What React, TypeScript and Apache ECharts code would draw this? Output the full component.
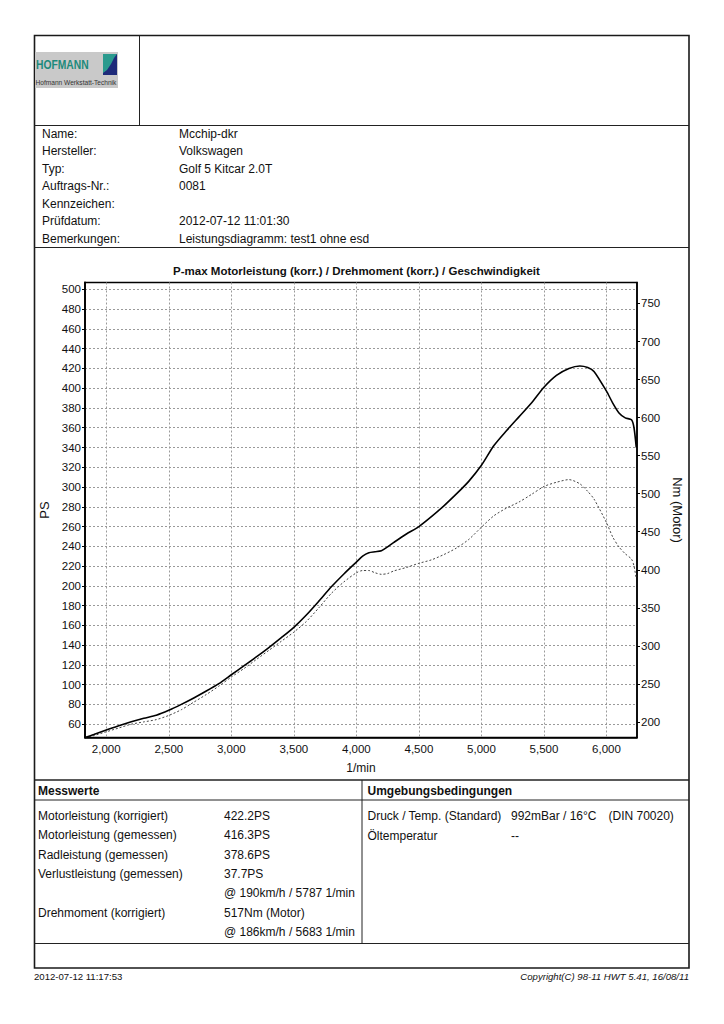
import React, { useEffect, useRef } from "react";
import * as echarts from "echarts";

// ---- data ----
const rpm = [
  1830, 1900, 2000, 2100, 2200, 2300, 2400, 2500, 2600, 2700, 2800, 2900, 3000,
  3100, 3200, 3300, 3400, 3500, 3600, 3700, 3800, 3900, 4000, 4050, 4100, 4150,
  4200, 4250, 4300, 4400, 4500, 4600, 4700, 4800, 4900, 5000, 5100, 5200, 5300,
  5400, 5500, 5600, 5700, 5787, 5850, 5900, 6000, 6050, 6100, 6150, 6200, 6220,
  6238,
];
const powerPS = [
  46.5, 49.5, 54, 58.5, 62.5, 66, 69, 74, 80, 86.5, 93.5, 101, 110,
  119, 128, 137.5, 147.5, 158, 170.5, 184.5, 199, 212, 224, 230, 233.5, 234.5,
  235.5, 239.5, 244, 252.5, 260, 270, 281, 293, 306, 322, 342, 357, 371,
  385, 401, 413, 420, 422.5, 421, 417, 397, 385, 375, 370, 368, 360,
  340,
];
const torqueNm = [
  179.5, 182, 187, 192, 197, 200, 203, 208.5, 216, 226, 236, 247, 259,
  270, 282, 294, 306, 318, 332, 350, 369, 384, 396, 399, 399, 396,
  394, 395, 398.5, 403, 408.5, 413, 420, 428.5, 440, 456, 471, 481, 489,
  499, 509.5, 515, 518.5, 513, 503, 493, 462, 443, 430, 421, 414, 405,
  388,
];
const rpmTicks = [2000, 2500, 3000, 3500, 4000, 4500, 5000, 5500, 6000];
const psTicks = [
  60, 80, 100, 120, 140, 160, 180, 200, 220, 240, 260, 280, 300, 320, 340, 360,
  380, 400, 420, 440, 460, 480, 500,
];
const nmTicks = [200, 250, 300, 350, 400, 450, 500, 550, 600, 650, 700, 750];

const chartTitle =
  "P-max Motorleistung (korr.) / Drehmoment (korr.) / Geschwindigkeit";

const infoLabels = [
  "Name:",
  "Hersteller:",
  "Typ:",
  "Auftrags-Nr.:",
  "Kennzeichen:",
  "Prüfdatum:",
  "Bemerkungen:",
];
const infoValues = [
  "Mcchip-dkr",
  "Volkswagen",
  "Golf 5 Kitcar 2.0T",
  "0081",
  "",
  "2012-07-12 11:01:30",
  "Leistungsdiagramm: test1 ohne esd",
];
const measLabels = [
  "Motorleistung (korrigiert)",
  "Motorleistung (gemessen)",
  "Radleistung (gemessen)",
  "Verlustleistung (gemessen)",
  "",
  "Drehmoment (korrigiert)",
  "",
];
const measValues = [
  "422.2PS",
  "416.3PS",
  "378.6PS",
  "37.7PS",
  "@ 190km/h / 5787 1/min",
  "517Nm (Motor)",
  "@ 186km/h / 5683 1/min",
];
const envLabels = ["Druck / Temp. (Standard)", "Öltemperatur"];
const envValues = ["992mBar / 16°C", "--"];
const envExtra = ["(DIN 70020)", ""];

const FONT = '"Liberation Sans", Arial, sans-serif';

function txt(
  text: string,
  x: number,
  y: number,
  size = 12,
  opts: { bold?: boolean; italic?: boolean; align?: string; fill?: string } = {}
) {
  return {
    type: "text",
    silent: true,
    style: {
      text,
      x,
      y,
      fill: opts.fill || "#111",
      font: `${opts.italic ? "italic " : ""}${opts.bold ? "bold " : ""}${size}px ${FONT}`,
      align: opts.align || "left",
      verticalAlign: "middle",
    },
  };
}
function hline(x1: number, x2: number, y: number, w = 1, c = "#222") {
  return {
    type: "line",
    silent: true,
    shape: { x1, y1: y, x2, y2: y },
    style: { stroke: c, lineWidth: w },
  };
}
function vline(x: number, y1: number, y2: number, w = 1, c = "#222") {
  return {
    type: "line",
    silent: true,
    shape: { x1: x, y1, x2: x, y2 },
    style: { stroke: c, lineWidth: w },
  };
}

function fmtK(v: number) {
  const th = Math.floor(v / 1000);
  const rest = String(Math.round(v % 1000)).padStart(3, "0");
  return th > 0 ? `${th},${rest}` : String(v);
}

export default function App() {
  const ref = useRef<HTMLDivElement>(null);
  useEffect(() => {
    if (!ref.current) return;
    const chart = echarts.init(ref.current, undefined, { renderer: "svg" });

    const graphic: any[] = [];
    // outer frame & table lines
    graphic.push({
      type: "rect",
      silent: true,
      shape: { x: 34.5, y: 35.5, width: 654.5, height: 932.5 },
      style: { fill: "none", stroke: "#1a1a1a", lineWidth: 1.6 },
    });
    graphic.push(vline(139.5, 35.5, 125.5, 1));
    graphic.push(hline(34.5, 689, 125.5, 1.2));
    graphic.push(hline(34.5, 689, 247.5, 1.2));
    graphic.push(hline(34.5, 689, 780, 1.4));
    graphic.push(hline(34.5, 689, 800, 1));
    graphic.push(hline(34.5, 689, 943.5, 1.2));
    graphic.push(vline(362, 780, 943.5, 1));

    // logo
    graphic.push({
      type: "rect",
      silent: true,
      shape: { x: 35, y: 52, width: 83, height: 36 },
      style: { fill: "#c9c9c9" },
    });
    graphic.push({
      type: "rect",
      silent: true,
      shape: { x: 103, y: 54, width: 14, height: 21 },
      style: { fill: "#1e2b7a" },
    });
    graphic.push({
      type: "polygon",
      silent: true,
      shape: {
        points: [
          [103, 54],
          [117, 54],
          [114, 58],
          [111, 64],
          [107, 70],
          [103, 73],
        ],
      },
      style: { fill: "#2a9a8e" },
    });
    graphic.push({
      type: "text",
      silent: true,
      x: 36,
      y: 65,
      scaleX: 0.86,
      style: {
        text: "HOFMANN",
        x: 0,
        y: 0,
        fill: "#1d8a7c",
        font: `bold 12px ${FONT}`,
        align: "left",
        verticalAlign: "middle",
      },
    });
    graphic.push(
      txt("Hofmann Werkstatt-Technik", 35.5, 82, 6.6, { fill: "#333" })
    );

    // info rows
    infoLabels.forEach((l, i) => {
      const y = 133.5 + i * 17.5;
      graphic.push(txt(l, 42, y, 12));
      if (infoValues[i]) graphic.push(txt(infoValues[i], 179, y, 12));
    });

    // chart title
    graphic.push(txt(chartTitle, 356.5, 271, 11.5, { bold: true, align: "center" }));

    // measurement table
    graphic.push(txt("Messwerte", 38, 791, 12, { bold: true }));
    graphic.push(txt("Umgebungsbedingungen", 367.5, 791, 12, { bold: true }));
    measLabels.forEach((l, i) => {
      const y = 816 + i * 19.3;
      if (l) graphic.push(txt(l, 38, y, 12));
      graphic.push(txt(measValues[i], 224, y, 12));
    });
    envLabels.forEach((l, i) => {
      const y = 815.5 + i * 20;
      graphic.push(txt(l, 367.5, y, 12));
      graphic.push(txt(envValues[i], 511, y, 12));
      if (envExtra[i]) graphic.push(txt(envExtra[i], 608.5, y, 12));
    });

    // footer
    graphic.push(txt("2012-07-12 11:17:53", 34, 976, 9.6));
    graphic.push(
      txt("Copyright(C) 98-11 HWT 5.41, 16/08/11", 689, 976, 9.6, {
        italic: true,
        align: "right",
      })
    );

    const axisText = { color: "#111", fontSize: 11.5, fontFamily: FONT };
    const gridLine = {
      show: true,
      lineStyle: { color: "#9a9a9a", type: [2, 2], width: 1 },
    };

    chart.setOption({
      animation: false,
      backgroundColor: "#ffffff",
      textStyle: { fontFamily: FONT },
      grid: {
        left: 85,
        right: 87,
        top: 282.5,
        bottom: 286.5,
        show: true,
        borderColor: "#000",
        borderWidth: 1.5,
        backgroundColor: "transparent",
      },
      xAxis: {
        type: "value",
        min: 1830,
        max: 6244,
        name: "1/min",
        nameLocation: "middle",
        nameGap: 24,
        nameTextStyle: { ...axisText, fontSize: 12 },
        axisLine: { show: true, lineStyle: { color: "#000", width: 1.5 } },
        axisTick: { show: false, customValues: rpmTicks },
        axisLabel: {
          ...axisText,
          customValues: rpmTicks,
          margin: 5,
          formatter: (v: number) => fmtK(v),
        },
        splitLine: gridLine,
      },
      yAxis: [
        {
          type: "value",
          position: "left",
          min: 46.5,
          max: 507,
          name: "PS",
          nameLocation: "middle",
          nameGap: 29,
          nameRotate: 90,
          nameTextStyle: { ...axisText, fontSize: 13 },
          axisLine: { show: true, lineStyle: { color: "#000", width: 1.8 } },
          axisTick: {
            show: true,
            length: 3,
            customValues: psTicks,
            lineStyle: { color: "#000" },
          },
          axisLabel: { ...axisText, customValues: psTicks, margin: 4 },
          splitLine: gridLine,
        },
        {
          type: "value",
          position: "right",
          min: 179.5,
          max: 777.6,
          name: "Nm (Motor)",
          nameLocation: "middle",
          nameGap: 23,
          nameRotate: -90,
          nameTextStyle: { ...axisText, fontSize: 13 },
          axisLine: { show: true, lineStyle: { color: "#000", width: 1.5 } },
          axisTick: {
            show: true,
            length: 3,
            customValues: nmTicks,
            lineStyle: { color: "#000" },
          },
          axisLabel: { ...axisText, customValues: nmTicks, margin: 4 },
          splitLine: { show: false },
        },
      ],
      series: [
        {
          type: "line",
          name: "Motorleistung",
          yAxisIndex: 0,
          data: rpm.map((r, i) => [r, powerPS[i]]),
          showSymbol: false,
          smooth: 0.25,
          lineStyle: { color: "#000", width: 1.6 },
          z: 5,
        },
        {
          type: "line",
          name: "Drehmoment",
          yAxisIndex: 1,
          data: rpm.map((r, i) => [r, torqueNm[i]]),
          showSymbol: false,
          smooth: 0.25,
          lineStyle: { color: "#444", width: 1, type: [2, 2] },
          z: 4,
        },
      ],
      graphic,
    });

    return () => chart.dispose();
  }, []);

  return (
    <div
      ref={ref}
      style={{
        position: "absolute",
        left: 0,
        top: 0,
        width: 724,
        height: 1024,
        background: "#fff",
      }}
    />
  );
}
